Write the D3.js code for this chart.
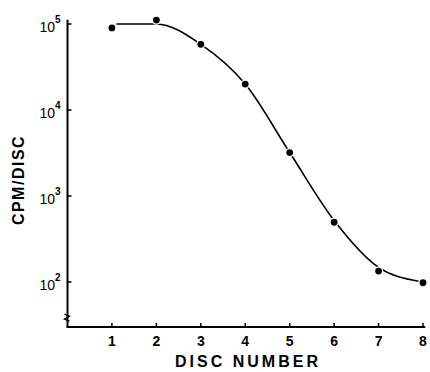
<!DOCTYPE html>
<html><head><meta charset="utf-8">
<script src="https://cdn.jsdelivr.net/npm/d3@7"></script>
<style>body{margin:0;background:#fff}svg{display:block}</style>
</head><body>
<svg id="c" width="430" height="372"></svg>
<script>
// Data
const discs = [1, 2, 3, 4, 5, 6, 7, 8];
const cpm = [90000, 111000, 58000, 20000, 3200, 495, 134, 98];
// Hand-drawn smooth fit curve
const curveDisc = [1.1, 2.0, 3.0, 4.0, 5.0, 6.0, 7.0, 7.9];
const curveCpm = [100000, 100000, 58000, 20000, 3200, 520, 148, 102];
const xTicks = [1, 2, 3, 4, 5, 6, 7, 8];
const yTicks = [2, 3, 4, 5]; // exponents

const svg = d3.select("#c");
const x = d3.scaleLinear().domain([0, 8]).range([67.5, 423]);
const y = d3.scaleLog().domain([100, 100000]).range([282, 24]);
const font = "'Liberation Sans', Arial, sans-serif";

// axes lines
const yBottom = y(30), yTop = y(112000);
svg.append("line").attr("x1", x(0)).attr("x2", x(0)).attr("y1", yTop).attr("y2", yBottom)
  .attr("stroke", "#000").attr("stroke-width", 2);
svg.append("line").attr("x1", x(0) - 1).attr("x2", x(8.05)).attr("y1", yBottom).attr("y2", yBottom)
  .attr("stroke", "#000").attr("stroke-width", 2);

// y break marker
const bx = x(0), by = y(38);
svg.append("path")
  .attr("d", `M${bx-3},${by-4} L${bx+2},${by-2} L${bx-3},${by+1} L${bx+2},${by+3}`)
  .attr("fill", "none").attr("stroke", "#000").attr("stroke-width", 1.3);

// y ticks (inward)
yTicks.forEach(e => {
  const yy = y(Math.pow(10, e));
  svg.append("line").attr("x1", x(0)).attr("x2", x(0) + 4).attr("y1", yy).attr("y2", yy)
    .attr("stroke", "#000").attr("stroke-width", 1.5);
  const t = svg.append("text").attr("x", 55).attr("y", yy + 8)
    .attr("text-anchor", "end").attr("font-family", font).attr("font-size", 14).attr("fill", "#000");
  t.append("tspan").text("10");
  svg.append("text").attr("x", 55).attr("y", yy - 1).attr("font-family", font)
    .attr("font-size", 10).attr("font-weight", "bold").attr("fill", "#000").text(e);
});

// x ticks (inward)
xTicks.forEach(d => {
  svg.append("line").attr("x1", x(d)).attr("x2", x(d)).attr("y1", yBottom).attr("y2", yBottom - 4)
    .attr("stroke", "#000").attr("stroke-width", 1.5);
  svg.append("text").attr("x", x(d)).attr("y", 346).attr("text-anchor", "middle")
    .attr("font-family", font).attr("font-size", 14).attr("font-weight", "bold")
    .attr("fill", "#000").text(d);
});

// axis titles
svg.append("text").attr("x", 248).attr("y", 367).attr("text-anchor", "middle")
  .attr("font-family", font).attr("font-size", 16).attr("font-weight", "bold")
  .attr("letter-spacing", 3).attr("fill", "#000").text("DISC NUMBER");
svg.append("text").attr("transform", "translate(24,180) rotate(-90)").attr("text-anchor", "middle")
  .attr("font-family", font).attr("font-size", 16).attr("font-weight", "bold")
  .attr("letter-spacing", 1.5).attr("fill", "#000").text("CPM/DISC");

// curve
const line = d3.line().x(d => x(d[0])).y(d => y(d[1])).curve(d3.curveMonotoneX);
svg.append("path").datum(curveDisc.map((d, i) => [d, curveCpm[i]]))
  .attr("d", line).attr("fill", "none").attr("stroke", "#000").attr("stroke-width", 1.6);

// points with white halo to create gaps
svg.selectAll("circle.p").data(discs.map((d, i) => [d, cpm[i]])).enter().append("circle")
  .attr("cx", d => x(d[0])).attr("cy", d => y(d[1])).attr("r", 3.4)
  .attr("fill", "#000").attr("stroke", "#fff").attr("stroke-width", 2.5)
  .attr("paint-order", "stroke");
</script>
</body></html>
